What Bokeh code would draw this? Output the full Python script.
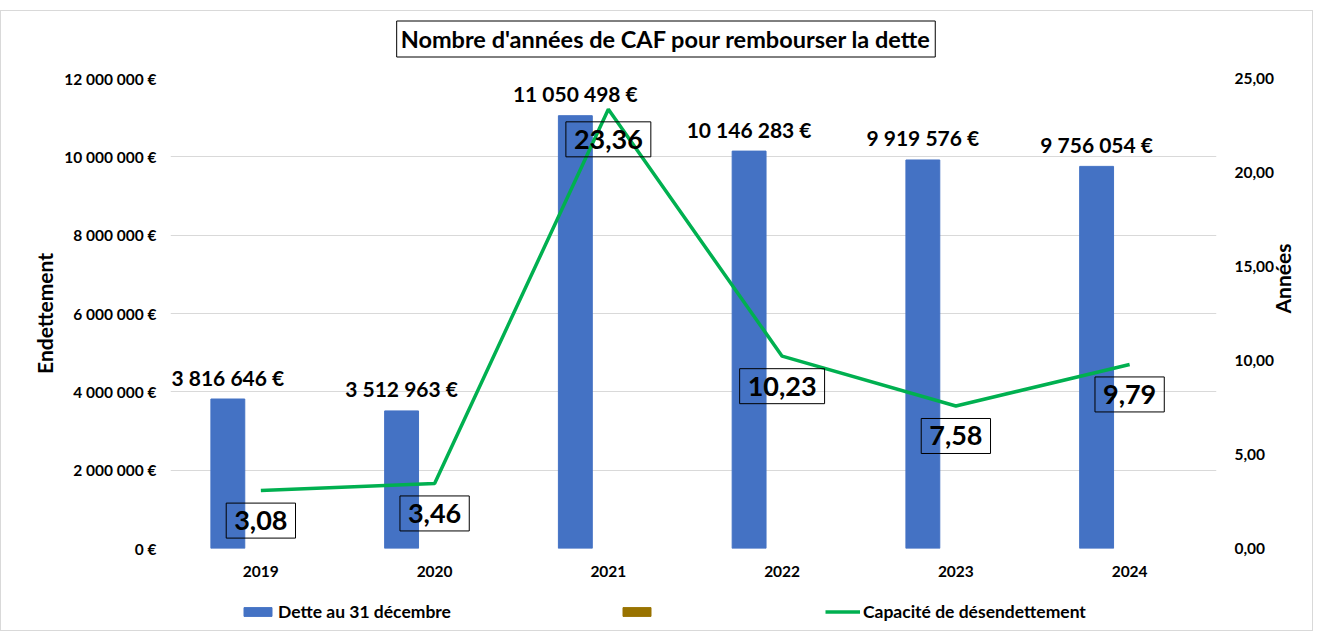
import math
from bokeh.plotting import figure
from bokeh.layouts import column
from bokeh.models import (ColumnDataSource, Range1d, LinearAxis, FixedTicker,
                          LabelSet, Label, Legend, LegendItem)
from bokeh.core.properties import value
from bokeh.embed import file_html
from bokeh.resources import INLINE

years = ["2019", "2020", "2021", "2022", "2023", "2024"]
dette = [3816646, 3512963, 11050498, 10146283, 9919576, 9756054]
capacite = [3.08, 3.46, 23.36, 10.23, 7.58, 9.79]
left_ticks = [0, 2000000, 4000000, 6000000, 8000000, 10000000, 12000000]
left_tick_labels = ["0 €", "2 000 000 €", "4 000 000 €", "6 000 000 €",
                    "8 000 000 €", "10 000 000 €", "12 000 000 €"]
right_ticks = [0, 5, 10, 15, 20, 25]
right_tick_labels = ["0,00", "5,00", "10,00", "15,00", "20,00", "25,00"]
title_text = "Nombre d'années de CAF pour rembourser la dette"
legend_labels = ["Dette au 31 décembre", "", "Capacité de désendettement"]

FONT = "Lato"
BLUE = "#4472C4"
BROWN = "#997300"
GREEN = "#00B050"
W = 1311

n = len(years)
centers = [i + 0.5 for i in range(n)]
bar_x = [c - 0.19 for c in centers]
zero = [0] * n
dette_txt = [f"{v:,}".replace(",", " ") + " €" for v in dette]
cap_txt = [f"{v:.2f}".replace(".", ",") for v in capacite]

src = ColumnDataSource(dict(x=centers, bx=bar_x, dette=dette, cap=capacite,
                            zero=zero, dtxt=dette_txt, ctxt=cap_txt))

# ---- title strip
t = figure(width=W, height=56, output_backend="svg", toolbar_location=None,
           x_range=Range1d(0, W), y_range=Range1d(0, 56),
           x_axis_type=None, y_axis_type=None, min_border=0)
t.outline_line_color = None
t.grid.visible = False
t.add_layout(Label(x=621, y=28.5, text=title_text, text_align="center",
                   text_baseline="middle", text_font=FONT,
                   text_font_style="bold", text_font_size="23.5px",
                   text_color="#000000", border_line_color="#000000",
                   border_line_width=1, background_fill_color="white",
                   padding=4))

# ---- main chart
p = figure(width=W, height=517, output_backend="svg", toolbar_location=None,
           x_range=Range1d(-0.02, n), y_range=Range1d(0, 12000000),
           min_border_left=169, min_border_right=96, min_border_top=11,
           min_border_bottom=36)
p.extra_y_ranges = {"ans": Range1d(0, 25)}
p.outline_line_color = None

p.xaxis.ticker = FixedTicker(ticks=centers)
p.xaxis.major_label_overrides = {c: y for c, y in zip(centers, years)}
p.yaxis.ticker = FixedTicker(ticks=left_ticks)
p.yaxis.major_label_overrides = {t_: l for t_, l in zip(left_ticks, left_tick_labels)}
p.yaxis.axis_label = "Endettement"

right = LinearAxis(y_range_name="ans", ticker=FixedTicker(ticks=right_ticks),
                   axis_label="Années")
right.major_label_overrides = {t_: l for t_, l in zip(right_ticks, right_tick_labels)}
p.add_layout(right, "right")

for ax in [p.xaxis[0], p.yaxis[0], right]:
    ax.axis_line_color = None
    ax.major_tick_line_color = None
    ax.minor_tick_line_color = None
    ax.major_tick_out = 0
    ax.major_tick_in = 0
    ax.minor_tick_out = 0
    ax.minor_tick_in = 0
    ax.major_label_text_font = FONT
    ax.major_label_text_font_style = "bold"
    ax.major_label_text_font_size = "15.5px"
    ax.major_label_text_color = "#000000"
    ax.axis_label_text_font = FONT
    ax.axis_label_text_font_style = "bold"
    ax.axis_label_text_font_size = "21px"
    ax.axis_label_text_color = "#000000"
p.xaxis.major_label_standoff = 17
p.yaxis.major_label_standoff = 14
p.yaxis.axis_label_standoff = 4
right.major_label_standoff = 18
right.axis_label_standoff = 5
right.axis_label_orientation = math.pi / 2

p.xgrid.grid_line_color = None
p.ygrid.ticker = FixedTicker(ticks=left_ticks)
p.ygrid.grid_line_color = "#D9D9D9"
p.ygrid.grid_line_width = 1

p.vbar(x="bx", top="dette", width=0.195, bottom=0, source=src,
       fill_color=BLUE, line_color=BLUE)
p.line(x="x", y="cap", source=src, y_range_name="ans",
       line_color=GREEN, line_width=3.5)

p.add_layout(LabelSet(x="bx", y="dette", text="dtxt", source=src,
                      text_align="center", text_baseline="middle", y_offset=22,
                      text_font=value(FONT), text_font_style="bold",
                      text_font_size="21px", text_color="#000000"))
p.text(x="x", y="cap", text="ctxt", source=src, y_range_name="ans",
       text_align="center", text_baseline="middle", y_offset=30,
       text_font=value(FONT), text_font_style="bold",
       text_font_size="27px", text_color="#000000",
       border_line_color="#000000", border_line_width=1,
       background_fill_color=None, padding=8)

# ---- legend strip: same series & styles, renderers hidden
q = figure(width=W, height=46, output_backend="svg", toolbar_location=None,
           x_range=Range1d(-20, -10), y_range=Range1d(-2e7, -1e7),
           x_axis_type=None, y_axis_type=None, min_border=0)
q.outline_line_color = None
q.grid.visible = False
k1 = q.vbar(x="bx", top="dette", width=0.195, source=src,
            fill_color=BLUE, line_color=BLUE, visible=False)
k2 = q.vbar(x="x", top="zero", width=0.195, source=src,
            fill_color=BROWN, line_color=BROWN, visible=False)
k3 = q.line(x="x", y="cap", source=src, line_color=GREEN, line_width=3.5,
            visible=False)
lg = Legend(items=[LegendItem(label=legend_labels[0], renderers=[k1]),
                   LegendItem(label=legend_labels[1], renderers=[k2]),
                   LegendItem(label=legend_labels[2], renderers=[k3])],
            location=(70, 8), orientation="horizontal",
            glyph_width=35, glyph_height=11, label_height=20, label_width=0,
            label_standoff=3, padding=0, margin=0, spacing=168,
            border_line_color=None, background_fill_alpha=0,
            label_text_font=FONT, label_text_font_style="bold",
            label_text_font_size="17.5px", label_text_color="#000000")
q.add_layout(lg, "center")

layout = column(t, p, q, spacing=0,
                styles={"border": "1px solid #D9D9D9", "margin-top": "10px"})

open("out.html", "w").write(file_html(layout, INLINE))
